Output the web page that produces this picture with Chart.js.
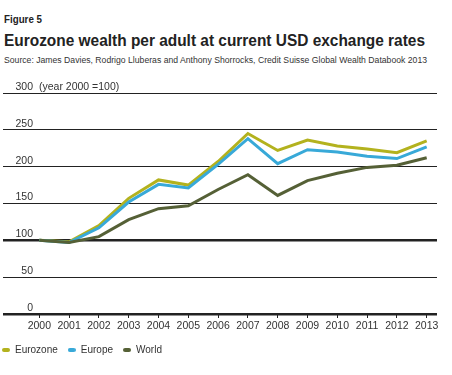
<!DOCTYPE html>
<html>
<head>
<meta charset="utf-8">
<script src="https://cdn.jsdelivr.net/npm/chart.js@4/dist/chart.umd.min.js"></script>
<style>
  html, body { margin: 0; padding: 0; background: #fff; width: 452px; height: 375px; overflow: hidden; }
  .t { position: absolute; left: 4px; white-space: nowrap; font-family: "Liberation Sans", Arial, sans-serif; line-height: 1; transform-origin: 0 0; }
  #fig { top: 14.5px; font-size: 10px; font-weight: bold; color: #222; }
  #title { top: 32px; font-size: 16.3px; font-weight: bold; color: #222; }
  #src { top: 56.3px; font-size: 8.5px; color: #333; }
  #wrap { position: absolute; left: 0; top: 75px; width: 452px; height: 300px; }
</style>
</head>
<body>
<div class="t" id="fig" data-w="38">Figure 5</div>
<div class="t" id="title" data-w="421">Eurozone wealth per adult at current USD exchange rates</div>
<div class="t" id="src" data-w="423">Source: James Davies, Rodrigo Lluberas and Anthony Shorrocks, Credit Suisse Global Wealth Databook 2013</div>
<div id="wrap"><canvas id="c" width="452" height="300"></canvas></div>
<script>
// ---- data ----
const years = [2000, 2001, 2002, 2003, 2004, 2005, 2006, 2007, 2008, 2009, 2010, 2011, 2012, 2013];
const eurozone = [100, 98, 120, 157, 182, 175, 207, 245, 222, 236, 228, 224, 219, 235];
const europe   = [100, 97, 117, 152, 176, 171, 203, 238, 204, 223, 220, 214, 211, 227];
const world    = [100, 97, 105, 128, 143, 147, 169, 189, 161, 181, 191, 199, 202, 212];
const yTicks = [0, 50, 100, 150, 200, 250, 300];
const seriesNames = ['Eurozone', 'Europe', 'World'];
const yNote = '(year 2000 =100)';

// fit header texts to reference widths
document.querySelectorAll('.t').forEach(el => {
  const w = el.getBoundingClientRect().width;
  const target = parseFloat(el.dataset.w);
  el.style.transform = 'scaleX(' + (target / w) + ')';
});

const colors = ['#b3b21e', '#38a9d8', '#556036'];
function pill(color) {
  const c = document.createElement('canvas');
  c.width = 8; c.height = 4;
  const g = c.getContext('2d');
  g.fillStyle = color;
  g.beginPath();
  g.moveTo(2, 0); g.lineTo(6, 0); g.arc(6, 2, 2, -Math.PI / 2, Math.PI / 2); g.lineTo(2, 4); g.arc(2, 2, 2, Math.PI / 2, Math.PI * 1.5);
  g.fill();
  return c;
}
const seriesData = [eurozone, europe, world];
const drawOrder = [2, 1, 0];
const datasets = seriesData.map((arr, i) => ({
  label: seriesNames[i],
  data: years.map((yr, k) => ({ x: yr, y: arr[k] })),
  borderColor: colors[i],
  backgroundColor: colors[i],
  borderWidth: 3,
  pointRadius: 0,
  pointStyle: pill(colors[i]),
  tension: 0,
  fill: false,
  order: drawOrder[i]
}));

const FONT = { family: '"Liberation Sans", Arial, sans-serif', size: 10.5 };
const TXT = '#333';

const notePlugin = {
  id: 'note',
  afterLayout(chart) {
    chart.legend.left -= 8;
    chart.legend.right -= 8;
  },
  afterDraw(chart) {
    const y = chart.scales.y;
    const ctx = chart.ctx;
    ctx.save();
    ctx.font = FONT.size + 'px ' + FONT.family;
    ctx.fillStyle = TXT;
    ctx.textAlign = 'left';
    ctx.textBaseline = 'middle';
    ctx.fillText(yNote, 39, y.getPixelForValue(yTicks[yTicks.length - 1]) - 6);
    ctx.restore();
  }
};

new Chart(document.getElementById('c'), {
  type: 'line',
  data: { datasets },
  plugins: [notePlugin],
  options: {
    responsive: false,
    animation: false,
    devicePixelRatio: 1,
    layout: { padding: { top: 18, right: 15, bottom: 10, left: 0 } },
    plugins: {
      tooltip: { enabled: false },
      legend: {
        position: 'bottom',
        align: 'start',
        labels: {
          usePointStyle: true,
          boxWidth: 8,
          boxHeight: 4,
          padding: 10,
          color: TXT,
          font: { family: FONT.family, size: 10 },
          sort: (a, b) => a.datasetIndex - b.datasetIndex
        }
      }
    },
    scales: {
      x: {
        type: 'linear',
        min: 1999.889,
        max: 2013.346,
        afterBuildTicks: s => { s.ticks = years.map(v => ({ value: v })); },
        afterFit: s => { s.height = 21; },
        border: { display: false },
        grid: { drawOnChartArea: false, drawTicks: true, tickLength: 4, color: '#222', lineWidth: 1 },
        ticks: { padding: 2, color: TXT, font: FONT, maxRotation: 0, autoSkip: false, callback: v => String(v) }
      },
      y: {
        min: 0,
        max: 300,
        afterBuildTicks: s => { s.ticks = yTicks.map(v => ({ value: v })); },
        afterFit: s => { s.width = 36; },
        border: { display: false },
        grid: {
          drawTicks: true,
          tickLength: 33,
          color: '#222',
          lineWidth: c => (c.tick && (c.tick.value === 100 || c.tick.value === 0)) ? 2.5 : 1
        },
        ticks: { padding: -30, labelOffset: -6, color: TXT, font: FONT, callback: v => String(v) }
      }
    }
  }
});
</script>
</body>
</html>
